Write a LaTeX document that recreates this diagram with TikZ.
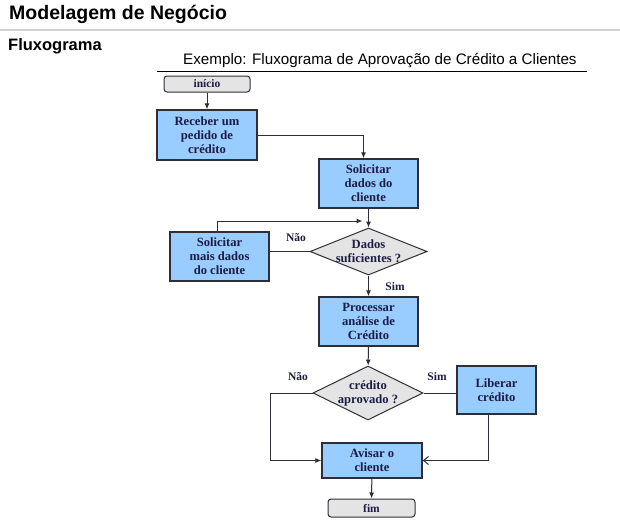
\documentclass[tikz,border=0pt]{standalone}
\usepackage{fontspec}
\setmainfont{Liberation Serif}
\setsansfont{Liberation Sans}
\usepackage{xcolor}
\usetikzlibrary{arrows.meta,shapes.geometric}

\definecolor{caixaazul}{HTML}{99CCFF}
\definecolor{caixacinza}{HTML}{E4E4E4}
\definecolor{borda}{HTML}{2E2E38}
\definecolor{texto}{HTML}{1C1C44}

\tikzset{
  processo/.style={draw=borda,line width=1.4pt,fill=caixaazul,inner sep=0pt,
    align=center,text=texto,font=\fontsize{12.6}{14}\selectfont\bfseries},
  terminal/.style={draw=borda,line width=1pt,fill=caixacinza,rounded corners=3pt,
    inner sep=0pt,text=texto,font=\fontsize{11.5}{13}\selectfont\bfseries},
  decisao/.style={diamond,draw=borda,line width=1pt,fill=caixacinza,inner sep=0pt},
  rotulo/.style={inner sep=0pt,align=center,text=texto,font=\fontsize{12.6}{14}\selectfont\bfseries},
  seta/.style={-{Latex[length=6pt,width=5pt]},line width=1pt,draw=borda},
  linha/.style={line width=1pt,draw=borda},
}

\begin{document}
\begin{tikzpicture}[x=1pt,y=-1pt]
    \useasboundingbox[fill=white] (0,0) rectangle (620,522);

    % Titles
    \node[anchor=base west,inner sep=0pt,font=\sffamily\bfseries\fontsize{19.5}{22}\selectfont] (titulo) at (9,19) {Modelagem de Negócio};
    \draw[gray!35,line width=1.5pt] (0,30) -- (620,30);
    \node[anchor=base west,inner sep=0pt,font=\sffamily\bfseries\fontsize{16.5}{19}\selectfont] (secao) at (8,50) {Fluxograma};
    \node[anchor=base west,inner sep=0pt,font=\sffamily\fontsize{15.2}{18}\selectfont] (exemplo) at (183,64) {Exemplo: Fluxograma de Aprovação de Crédito a Clientes};
    \draw[line width=0.9pt] (157,71) -- (587,71);

    % Boxes
    \node[terminal,minimum width=86pt,minimum height=16pt] (inicio) at (207,84) {início};
    \node[processo,minimum width=100pt,minimum height=50pt] (receber) at (207,135) {Receber um\\pedido de\\crédito};
    \node[processo,minimum width=99pt,minimum height=49pt] (solicitar) at (368.5,183.5) {Solicitar\\dados do\\cliente};
    \node[decisao,minimum width=117pt,minimum height=47pt] (dados) at (368.5,251.5) {};
    \node[rotulo] (dadostxt) at (dados.center) {Dados\\suficientes ?};
    \node[processo,minimum width=99pt,minimum height=49pt] (mais) at (219.5,256.5) {Solicitar\\mais dados\\do cliente};
    \node[processo,minimum width=99pt,minimum height=49pt] (processar) at (368.5,321.5) {Processar\\análise de\\Crédito};
    \node[decisao,minimum width=110pt,minimum height=54pt] (aprovado) at (368,393) {};
    \node[rotulo] (aprovadotxt) at (aprovado.center) {crédito\\aprovado ?};
    \node[processo,minimum width=79pt,minimum height=48pt] (liberar) at (496.5,390) {Liberar\\crédito};
    \node[processo,minimum width=100pt,minimum height=35pt] (avisar) at (372,460.5) {Avisar o\\cliente};
    \node[terminal,minimum width=87pt,minimum height=18pt] (fim) at (371.5,508) {fim};

    % Labels
    \node[rotulo,font=\fontsize{11.5}{13}\selectfont\bfseries] (nao1) at (296,238) {Não};
    \node[rotulo,font=\fontsize{11.5}{13}\selectfont\bfseries] (sim1) at (395,287) {Sim};
    \node[rotulo,font=\fontsize{11.5}{13}\selectfont\bfseries] (nao2) at (298,377) {Não};
    \node[rotulo,font=\fontsize{11.5}{13}\selectfont\bfseries] (sim2) at (437,377) {Sim};

    % Connectors
    \coordinate (juncao) at (368.5,221);
    \draw[seta] (inicio) -- (receber);
    \draw[seta] (receber.east) -| ([xshift=-5pt]solicitar.north);
    \draw[seta] (solicitar) -- (dados);
    \draw[linha] (dados.west) -- (dados.west -| mais.east);
    \draw[seta,shorten >=6pt] ([xshift=-2pt]mais.north) |- (juncao);
    \draw[seta] (dados) -- (processar);
    \draw[seta] (processar) -- (aprovado);
    \draw[linha] (aprovado.east) -- (aprovado.east -| liberar.west);
    \draw[seta] (aprovado.west) -- ++(-42,0) |- (avisar.west);
    \draw[-{Straight Barb[length=5pt,width=8pt]},line width=1pt,draw=borda] ([xshift=-8pt]liberar.south) |- (avisar.east);
    \draw[seta] (avisar) -- (fim);
\end{tikzpicture}
\end{document}
